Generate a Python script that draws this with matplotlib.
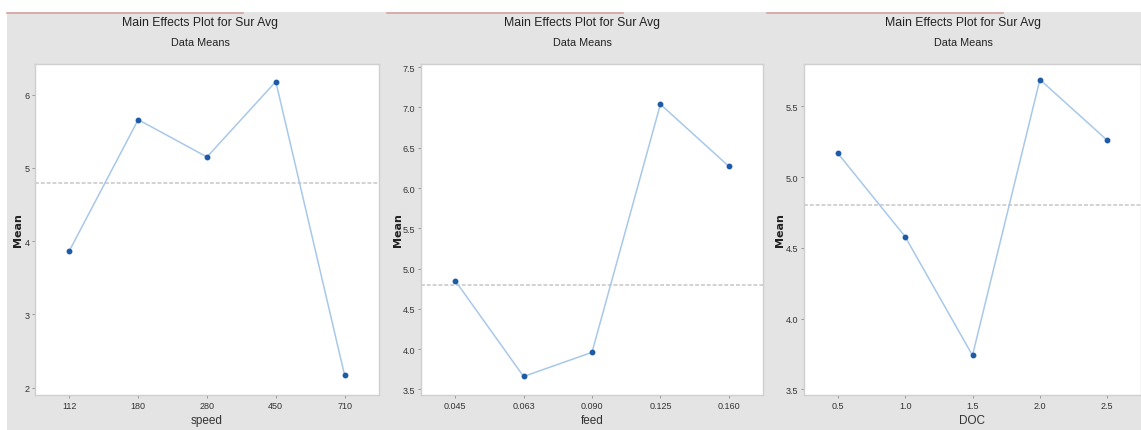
import matplotlib
matplotlib.use("Agg")
import matplotlib.pyplot as plt
from matplotlib.lines import Line2D
from matplotlib.patches import Rectangle

plt.rcParams["font.family"] = ["Liberation Sans", "DejaVu Sans"]

# ── Data ──────────────────────────────────────────────────────────────────────

speed_levels = ["112", "180", "280", "450", "710"]
speed_means  = [3.87, 5.66, 5.15, 6.18, 2.17]

feed_levels = ["0.045", "0.063", "0.090", "0.125", "0.160"]
feed_means  = [4.85, 3.66, 3.96, 7.04, 6.27]

doc_levels = ["0.5", "1.0", "1.5", "2.0", "2.5"]
doc_means  = [5.17, 4.58, 3.74, 5.69, 5.26]

grand_mean = 4.80

panels = [
    ("speed", speed_levels, speed_means, (1.9, 6.42), [2, 3, 4, 5, 6], "{:.0f}"),
    ("feed",  feed_levels,  feed_means,  (3.43, 7.54),
     [3.5, 4.0, 4.5, 5.0, 5.5, 6.0, 6.5, 7.0, 7.5], "{:.1f}"),
    ("DOC",   doc_levels,   doc_means,   (3.46, 5.80), [3.5, 4.0, 4.5, 5.0, 5.5], "{:.1f}"),
]

# ── Layout (pixels in a 1141 x 431 figure) ────────────────────────────────────

W, H = 1141, 431
BG = "#e4e4e4"
LINE = "#a8c8ea"
MARK = "#1d5ba8"

fig = plt.figure(figsize=(W / 100, H / 100), dpi=100, facecolor=BG)

# white strip at the top and left edge + thin reddish rules of each screenshot
fig.patches.append(Rectangle((0, 1 - 13 / H), 1, 13 / H, transform=fig.transFigure,
                             facecolor="white", edgecolor="none", zorder=0))
fig.patches.append(Rectangle((0, 0), 7 / W, 1, transform=fig.transFigure,
                             facecolor="white", edgecolor="none", zorder=0))
for x0 in (0, 380, 760):
    fig.add_artist(Line2D([(x0 + 7) / W, (x0 + 243) / W], [1 - 13.5 / H] * 2,
                          transform=fig.transFigure, color="#d9a3a3", lw=1.2))

ax_boxes = [(35, 379), (421, 763), (804, 1141)]
title_x  = [200, 582, 963]
label_x  = [18, 398, 780]
top, bottom = 65, 396

for (name, levels, means, ylim, yticks, fmt), (xl, xr), tx, lx in zip(
        panels, ax_boxes, title_x, label_x):
    ax = fig.add_axes([xl / W, 1 - bottom / H, (xr - xl) / W, (bottom - top) / H])
    ax.set_facecolor("white")
    idx = list(range(len(levels)))
    ax.axhline(grand_mean, color="#d2d2d2", lw=1.4, ls=(0, (2, 1)), zorder=1)
    ax.plot(idx, means, color=LINE, lw=1.1, zorder=2)
    ax.plot(idx, means, "o", color=MARK, ms=3.2, zorder=3)
    ax.set_xlim(-0.5, 4.5)
    ax.set_ylim(*ylim)
    ax.set_xticks(idx)
    ax.set_xticklabels(levels)
    ax.set_yticks(yticks)
    ax.set_yticklabels([fmt.format(v) for v in yticks])
    ax.tick_params(labelsize=6.5, length=2, width=0.6, color="#888888",
                   labelcolor="#333333", pad=2)
    for sp in ax.spines.values():
        sp.set_color("#cfcfcf")
        sp.set_linewidth(1)
    ax.set_xlabel(name, fontsize=8.5, color="#333333", labelpad=3)

    fig.text(tx / W, 1 - 23 / H, "Main Effects Plot for Sur Avg", ha="center",
             va="center", fontsize=8.8, color="#222222")
    fig.text(tx / W, 1 - 43 / H, "Data Means", ha="center", va="center",
             fontsize=7.8, color="#222222")
    fig.text(lx / W, 1 - 230 / H, "Mean", rotation=90, ha="center", va="center",
             fontsize=8, fontweight="bold", color="#222222",
             family=["DejaVu Sans"])

fig.savefig("out.png", dpi=100, facecolor=BG)
